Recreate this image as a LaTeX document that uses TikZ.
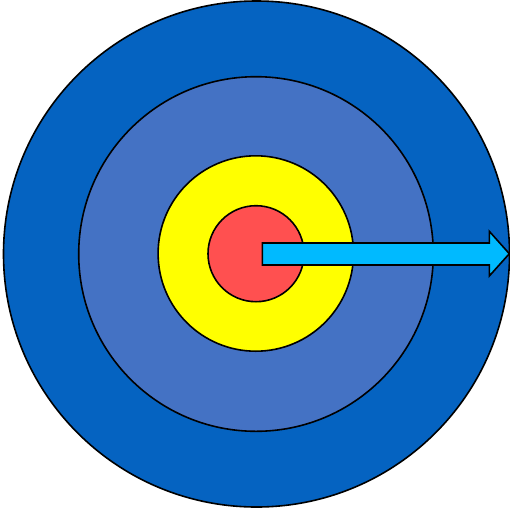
\documentclass[tikz,border=0pt]{standalone}
\usetikzlibrary{shapes.arrows}
\definecolor{ringout}{RGB}{5,99,193}
\definecolor{ringmid}{RGB}{68,114,196}
\definecolor{ringyel}{RGB}{255,255,0}
\definecolor{ringred}{RGB}{255,80,80}
\definecolor{arrowblue}{RGB}{0,186,255}
\tikzset{
  ring/.style={circle, draw=black, line width=1.6pt, inner sep=0pt, outer sep=0pt},
  arrowshape/.style={draw=black, line width=1.6pt, fill=arrowblue, line join=miter}
}
\begin{document}
\begin{tikzpicture}[x=1pt,y=-1pt]
\useasboundingbox (0,0) rectangle (510,509);
\node[ring, fill=ringout, minimum size=506pt] (outer) at (256.5,254) {};
\node[ring, fill=ringmid, minimum size=354.6pt] (mid) at (256,254) {};
\node[ring, fill=ringyel, minimum size=195.4pt] (yel) at (255.8,253.5) {};
\node[ring, fill=ringred, minimum size=96pt] (bull) at (256,253.7) {};
\coordinate (tip) at (509.3,253.7);
\draw[arrowshape] (262.3,243) -- (489.3,243) -- (489.3,231.3) -- (tip) -- (489.3,276) -- (489.3,265) -- (262.3,265) -- cycle;
\end{tikzpicture}
\end{document}
